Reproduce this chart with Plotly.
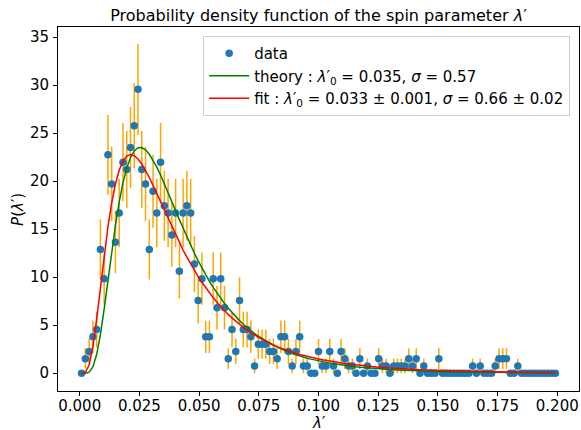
import numpy as np
import plotly.graph_objects as go

# Histogram: 127 bins over [0, 0.2]
n_bins = 127
x_min, x_max = 0.0, 0.2
edges = np.linspace(x_min, x_max, n_bins + 1)
lam = 0.5 * (edges[:-1] + edges[1:])

# Probability density values (one per bin)
density = [
    0.00, 1.52, 2.27, 3.79, 4.55, 12.89, 9.85, 22.74, 19.71, 13.64,
    16.68, 21.98, 21.22, 23.50, 25.77, 29.56, 21.22, 19.71, 12.89, 18.95,
    16.68, 21.98, 17.43, 16.68, 14.40, 16.68, 10.61, 16.68, 17.43, 16.68,
    11.37, 7.58, 9.85, 3.79, 3.79, 9.85, 6.82, 9.85, 6.82, 1.52,
    4.55, 2.27, 7.58, 4.55, 4.55, 3.79, 0.76, 3.03, 3.03, 3.03,
    2.27, 2.27, 1.52, 3.79, 3.79, 2.27, 0.76, 2.27, 3.79, 0.76,
    0.76, 0.00, 0.00, 2.27, 0.76, 0.76, 2.27, 0.76, 0.00, 2.27,
    1.52, 0.76, 0.76, 0.00, 1.52, 0.00, 0.76, 0.00, 0.00, 1.52,
    0.76, 0.76, 0.00, 0.76, 0.76, 0.76, 0.76, 1.52, 0.76, 1.52,
    0.00, 0.76, 0.00, 0.00, 0.00, 1.52, 0.00, 0.00, 0.00, 0.00,
    0.00, 0.00, 0.00, 0.00, 0.76, 0.00, 0.76, 0.00, 0.00, 0.00,
    0.76, 1.52, 1.52, 1.52, 0.00, 0.00, 0.76, 0.00, 0.00, 0.00,
    0.00, 0.00, 0.00, 0.00, 0.00, 0.00, 0.00,
]

# Error bar half-lengths
errors = [
    0.00, 1.07, 1.31, 1.69, 1.86, 3.13, 2.73, 4.15, 3.87, 3.22,
    3.56, 4.08, 4.01, 4.22, 4.42, 4.73, 4.01, 3.87, 3.13, 3.79,
    3.56, 4.08, 3.64, 3.56, 3.30, 3.56, 2.84, 3.56, 3.64, 3.56,
    2.94, 2.40, 2.73, 1.69, 1.69, 2.73, 2.27, 2.73, 2.27, 1.07,
    1.86, 1.31, 2.40, 1.86, 1.86, 1.69, 0.76, 1.52, 1.52, 1.52,
    1.31, 1.31, 1.07, 1.69, 1.69, 1.31, 0.76, 1.31, 1.69, 0.76,
    0.76, 0.00, 0.00, 1.31, 0.76, 0.76, 1.31, 0.76, 0.00, 1.31,
    1.07, 0.76, 0.76, 0.00, 1.07, 0.00, 0.76, 0.00, 0.00, 1.07,
    0.76, 0.76, 0.00, 0.76, 0.76, 0.76, 0.76, 1.07, 0.76, 1.07,
    0.00, 0.76, 0.00, 0.00, 0.00, 1.07, 0.00, 0.00, 0.00, 0.00,
    0.00, 0.00, 0.00, 0.00, 0.76, 0.00, 0.76, 0.00, 0.00, 0.00,
    0.76, 1.07, 1.07, 1.07, 0.00, 0.00, 0.76, 0.00, 0.00, 0.00,
    0.00, 0.00, 0.00, 0.00, 0.00, 0.00, 0.00,
]

# Model parameters (log-normal), as stated in the legend
theory_lam0, theory_sigma = 0.035, 0.57
fit_lam0, fit_sigma = 0.033, 0.66

x_ticks = [0.000, 0.025, 0.050, 0.075, 0.100, 0.125, 0.150, 0.175, 0.200]
y_ticks = [0, 5, 10, 15, 20, 25, 30, 35]


def lognormal(x, lam0, sigma):
    x = np.asarray(x)
    return np.exp(-np.log(x / lam0) ** 2 / (2 * sigma ** 2)) / (x * sigma * np.sqrt(2 * np.pi))


FONT = "DejaVu Sans"
fig = go.Figure()

fig.add_trace(go.Scatter(
    x=lam, y=density, mode="markers", name="data",
    marker=dict(color="#1f77b4", size=7.5),
    error_y=dict(type="data", array=errors, visible=True, color="#ffa500",
                 thickness=1.5, width=0),
))
fig.add_trace(go.Scatter(
    x=lam, y=lognormal(lam, theory_lam0, theory_sigma), mode="lines",
    name="theory : <i>λ</i>′<sub>0</sub> = 0.035, <i>σ</i> = 0.57",
    line=dict(color="#008000", width=1.5),
))
fig.add_trace(go.Scatter(
    x=lam, y=lognormal(lam, fit_lam0, fit_sigma), mode="lines",
    name="fit : <i>λ</i>′<sub>0</sub> = 0.033 ± 0.001, <i>σ</i> = 0.66 ± 0.02",
    line=dict(color="#ff0000", width=1.5),
))

axis_common = dict(
    showline=True, linecolor="black", linewidth=1, mirror=True,
    ticks="outside", ticklen=4, tickcolor="black", tickwidth=1,
    showgrid=False, zeroline=False, automargin=False,
    tickfont=dict(family=FONT, size=15, color="black"),
)

fig.update_layout(
    width=581, height=430,
    margin=dict(l=58, r=2, t=27, b=39),
    paper_bgcolor="white", plot_bgcolor="white",
    font=dict(family=FONT, size=15, color="black"),
    title=dict(text="Probability density function of the spin parameter <i>λ</i>′",
               x=0.5, xref="paper", xanchor="center",
               y=1 - 15 / 430, yanchor="middle",
               font=dict(family=FONT, size=16, color="black")),
    xaxis=dict(range=[-0.0091, 0.2091], tickvals=x_ticks,
               ticktext=[f"{v:.3f}" for v in x_ticks],
               ticklabelstandoff=-3,
               **axis_common),
    yaxis=dict(range=[-1.85, 36.05], tickvals=y_ticks,
               ticktext=[str(v) for v in y_ticks],
               ticklabelstandoff=1,
               **axis_common),
    legend=dict(x=0.983, xanchor="right", y=0.975, yanchor="top",
                bgcolor="rgba(255,255,255,0.8)", bordercolor="#cccccc",
                borderwidth=1, font=dict(family=FONT, size=15),
                tracegroupgap=0, itemwidth=40),
    showlegend=True,
    annotations=[
        dict(text="<i>λ</i>′", xref="paper", yref="paper",
             x=0.5, y=-0.088, xanchor="center", yanchor="middle",
             showarrow=False, font=dict(family=FONT, size=15, color="black")),
        dict(text="<i>P</i>(<i>λ</i>′)", xref="paper", yref="paper",
             x=-0.077, y=0.5, xanchor="center", yanchor="middle", textangle=-90,
             showarrow=False, font=dict(family=FONT, size=15, color="black")),
    ],
)

fig.write_html("out.html")
